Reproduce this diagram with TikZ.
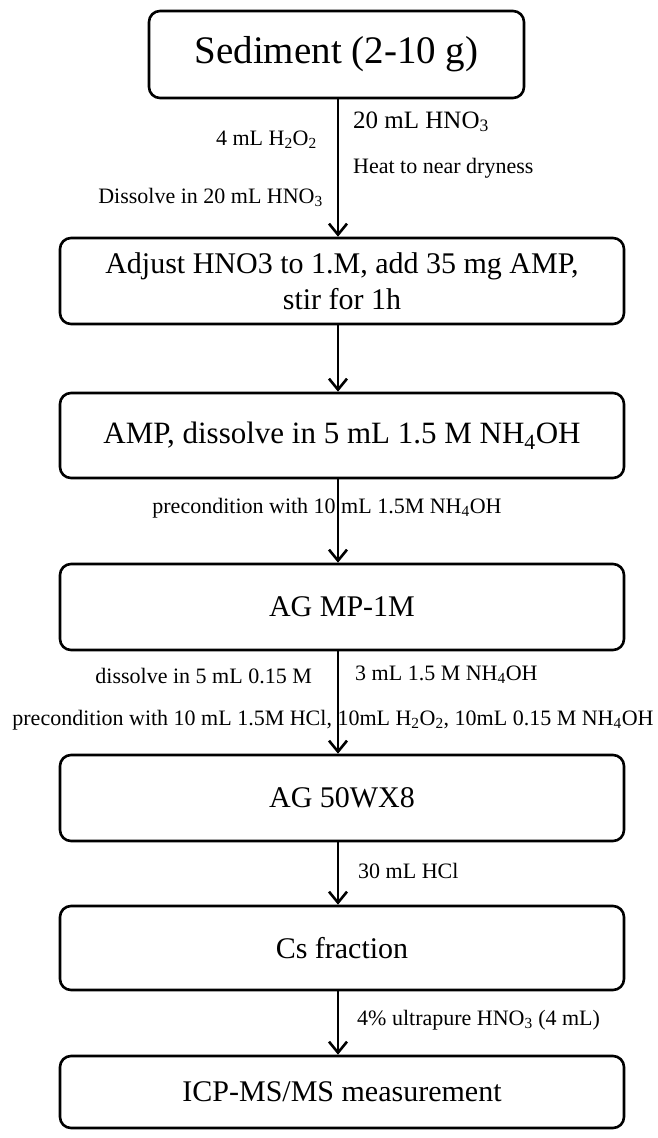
\documentclass[tikz,border=0pt]{standalone}
\usepackage{fontspec}
\setmainfont{Liberation Serif}
\usetikzlibrary{arrows.meta}
\begin{document}
\begin{tikzpicture}[x=1pt,y=-1pt,
  stepbox/.style={draw,line width=2.6pt,rounded corners=11pt,minimum width=564pt,
    align=center,inner sep=0pt,font=\fontsize{30}{36}\selectfont},
  arr/.style={line width=2.6pt,-{Straight Barb[length=11pt,width=18pt]}},
  lab/.style={inner sep=0pt,font=\fontsize{22}{26}\selectfont}]
\useasboundingbox (0,0) rectangle (658,1138);
\coordinate (spine) at (338,0);
\node[stepbox,minimum width=375pt,minimum height=87pt,font=\fontsize{39}{44}\selectfont] (b1) at (336.5,54.5) {Sediment (2-10 g)};
\node[stepbox,minimum height=86pt] (b2) at (342,281) {Adjust HNO3 to 1.M, add 35 mg AMP,\\stir for 1h};
\node[stepbox,minimum height=85pt,font=\fontsize{31}{36}\selectfont] (b3) at (342,435.5) {AMP, dissolve in 5 mL 1.5 M NH\textsubscript{4}OH};
\node[stepbox,minimum height=86pt] (b4) at (342,607) {AG MP-1M};
\node[stepbox,minimum height=86pt] (b5) at (342,798) {AG 50WX8};
\node[stepbox,minimum height=84pt] (b6) at (342,948) {Cs fraction};
\node[stepbox,minimum height=72pt] (b7) at (342,1092) {ICP-MS/MS measurement};
\draw[arr] (b1.south -| spine) -- (b2.north -| spine);
\draw[arr] (b2.south -| spine) -- (b3.north -| spine);
\draw[arr] (b3.south -| spine) -- (b4.north -| spine);
\draw[arr] (b4.south -| spine) -- (b5.north -| spine);
\draw[arr] (b5.south -| spine) -- (b6.north -| spine);
\draw[arr] (b6.south -| spine) -- (b7.north -| spine);
\node[lab,anchor=base west,font=\fontsize{25}{30}\selectfont] (t1) at (353,128) {20 mL HNO\textsubscript{3}};
\node[lab,anchor=base west] (t2) at (353,173) {Heat to near dryness};
\node[lab,anchor=base east] (t3) at (317,145) {4 mL H\textsubscript{2}O\textsubscript{2}};
\node[lab,anchor=base east] (t4) at (323,203) {Dissolve in 20 mL HNO\textsubscript{3}};
\node[lab,anchor=base] (t5) at (327,513) {precondition with 10 mL 1.5M NH\textsubscript{4}OH};
\node[lab,anchor=base east] (t6) at (312,683) {dissolve in 5 mL 0.15 M};
\node[lab,anchor=base west] (t7) at (355,680) {3 mL 1.5 M NH\textsubscript{4}OH};
\node[lab,anchor=base] (t8) at (333,725) {precondition with 10 mL 1.5M HCl, 10mL H\textsubscript{2}O\textsubscript{2}, 10mL 0.15 M NH\textsubscript{4}OH};
\node[lab,anchor=base west] (t9) at (358,878) {30 mL HCl};
\node[lab,anchor=base west] (t10) at (357,1025) {4\% ultrapure HNO\textsubscript{3} (4 mL)};
\end{tikzpicture}
\end{document}
